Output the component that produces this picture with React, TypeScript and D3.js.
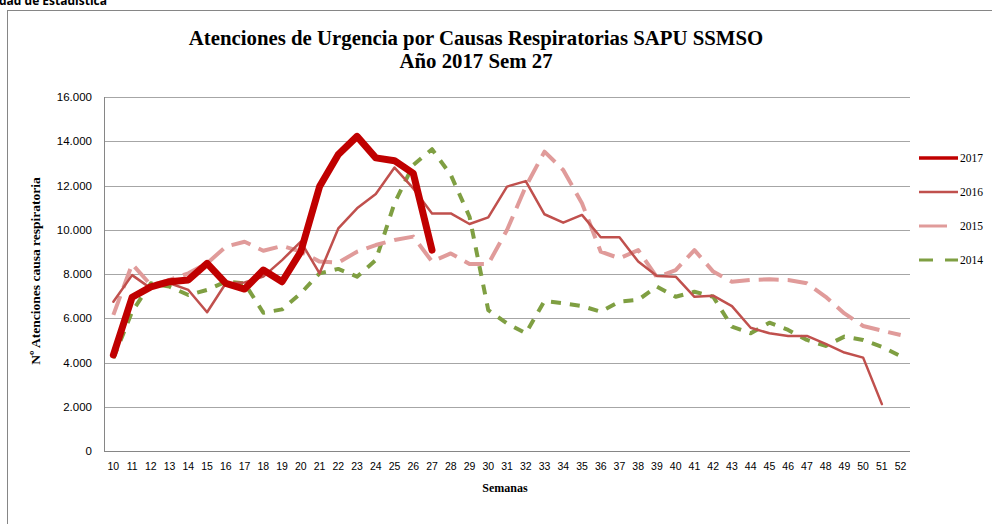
import React from "react";
import * as d3 from "d3";

// semanas 10..52
const weeks = d3.range(10, 53);
const yTicks = [0, 2000, 4000, 6000, 8000, 10000, 12000, 14000, 16000];

const s2017 = [4340, 6950, 7420, 7650, 7730, 8480, 7580, 7320, 8180, 7650, 9010, 11950, 13400, 14220, 13250, 13120, 12550, 9080];
const s2016 = [6750, 7950, 7350, 7580, 7280, 6270, 7580, 7620, 7880, 8630, 9460, 8030, 10060, 10970, 11620, 12810, 11870, 10740, 10740, 10260, 10560, 11950, 12200, 10700, 10320, 10670, 9660, 9660, 8560, 7910, 7880, 6970, 7020, 6550, 5570, 5320, 5200, 5200, 4840, 4450, 4220, 2120];
const s2015 = [6150, 8450, 7500, 7730, 8030, 8480, 9240, 9460, 9050, 9270, 9010, 8560, 8510, 9010, 9310, 9540, 9690, 8560, 8930, 8450, 8450, 9990, 11950, 13530, 12700, 11200, 9010, 8710, 9080, 7850, 8180, 9080, 8110, 7650, 7730, 7760, 7730, 7580, 6970, 6220, 5650, 5440, 5240];
const s2014 = [4190, 6300, 7580, 7430, 7050, 7280, 7650, 7580, 6250, 6400, 7130, 8030, 8230, 7880, 8630, 11200, 12930, 13640, 12480, 10590, 6370, 5770, 5320, 6780, 6680, 6550, 6300, 6750, 6830, 7430, 6970, 7200, 6970, 5620, 5320, 5800, 5470, 5020, 4750, 5170, 5020, 4710, 4290];

const series = [
  { name: "2017", values: s2017, color: "#C00000", width: 7, dash: "" },
  { name: "2016", values: s2016, color: "#C0504D", width: 2.5, dash: "" },
  { name: "2015", values: s2015, color: "#E09B9A", width: 4, dash: "20,9" },
  { name: "2014", values: s2014, color: "#7F9F42", width: 4, dash: "10,9" },
];

const W = 992;
const H = 524;
const plot = { left: 104, right: 910, top: 97, bottom: 451 };

export default function App() {
  const x = d3.scaleBand<number>().domain(weeks).range([plot.left, plot.right]);
  const y = d3.scaleLinear().domain([0, 16000]).range([plot.bottom, plot.top]);
  const cx = (w: number) => (x(w) as number) + x.bandwidth() / 2;
  const fmt = (v: number) => (v === 0 ? "0" : d3.format(",")(v).replace(/,/g, "."));

  const line = d3
    .line<number>()
    .x((_, i) => cx(weeks[i]))
    .y((d) => y(d));

  const drawOrder = [series[3], series[2], series[1], series[0]];

  return (
    <div style={{ position: "absolute", left: 0, top: 0 }}>
      <svg width={W} height={H} style={{ display: "block", background: "#fff" }}>
        <text x={107} y={5} textAnchor="end" fontFamily="Open Sans, sans-serif" fontWeight="bold" fontSize={12} fill="#000">
          Unidad de Estadística
        </text>
        <rect x={7.5} y={10.5} width={W} height={H} fill="none" stroke="#868686" strokeWidth={1} />

        <text x={476} y={45} textAnchor="middle" fontFamily="Liberation Serif, serif" fontWeight="bold" fontSize={20.8}>
          Atenciones de Urgencia por Causas Respiratorias SAPU SSMSO
        </text>
        <text x={476} y={68} textAnchor="middle" fontFamily="Liberation Serif, serif" fontWeight="bold" fontSize={20.8}>
          Año 2017 Sem 27
        </text>

        {yTicks.map((t) => (
          <g key={t}>
            <line x1={plot.left} x2={plot.right} y1={Math.round(y(t)) + 0.5} y2={Math.round(y(t)) + 0.5} stroke={t === 0 ? "#868686" : "#A6A6A6"} strokeWidth={1} />
            <text x={92} y={y(t)} dy="0.35em" textAnchor="end" fontFamily="Liberation Sans, sans-serif" fontSize={11.5} fill="#000">
              {fmt(t)}
            </text>
          </g>
        ))}
        <line x1={plot.left + 0.5} x2={plot.left + 0.5} y1={plot.top} y2={plot.bottom} stroke="#868686" />

        {weeks.map((w) => (
          <text key={w} x={cx(w)} y={470} textAnchor="middle" fontFamily="Liberation Sans, sans-serif" fontSize={10.5} fill="#000">
            {w}
          </text>
        ))}

        <text x={505} y={492} textAnchor="middle" fontFamily="Liberation Serif, serif" fontWeight="bold" fontSize={12}>
          Semanas
        </text>
        <text transform={`translate(40,${271}) rotate(-90)`} textAnchor="middle" fontFamily="Liberation Serif, serif" fontWeight="bold" fontSize={13.5}>
          Nº Atenciones  causa respiratoria
        </text>

        {drawOrder.map((s) => (
          <path
            key={s.name}
            d={line(s.values) || ""}
            fill="none"
            stroke={s.color}
            strokeWidth={s.width}
            strokeDasharray={s.dash}
            strokeLinejoin="round"
            strokeLinecap={s.dash ? "butt" : "round"}
          />
        ))}

        {series.map((s, i) => {
          const ly = 158 + i * 34;
          return (
            <g key={s.name}>
              <line x1={919} x2={958} y1={ly} y2={ly} stroke={s.color} strokeWidth={s.name === "2017" ? 3.5 : s.name === "2016" ? 2.5 : 3} strokeDasharray={s.name === "2015" ? "28,20" : s.name === "2014" ? "14,12" : ""} />
              <text x={960} y={ly} dy="0.35em" fontFamily="Liberation Serif, serif" fontSize={11.5} fill="#000">
                {s.name}
              </text>
            </g>
          );
        })}
      </svg>
    </div>
  );
}
